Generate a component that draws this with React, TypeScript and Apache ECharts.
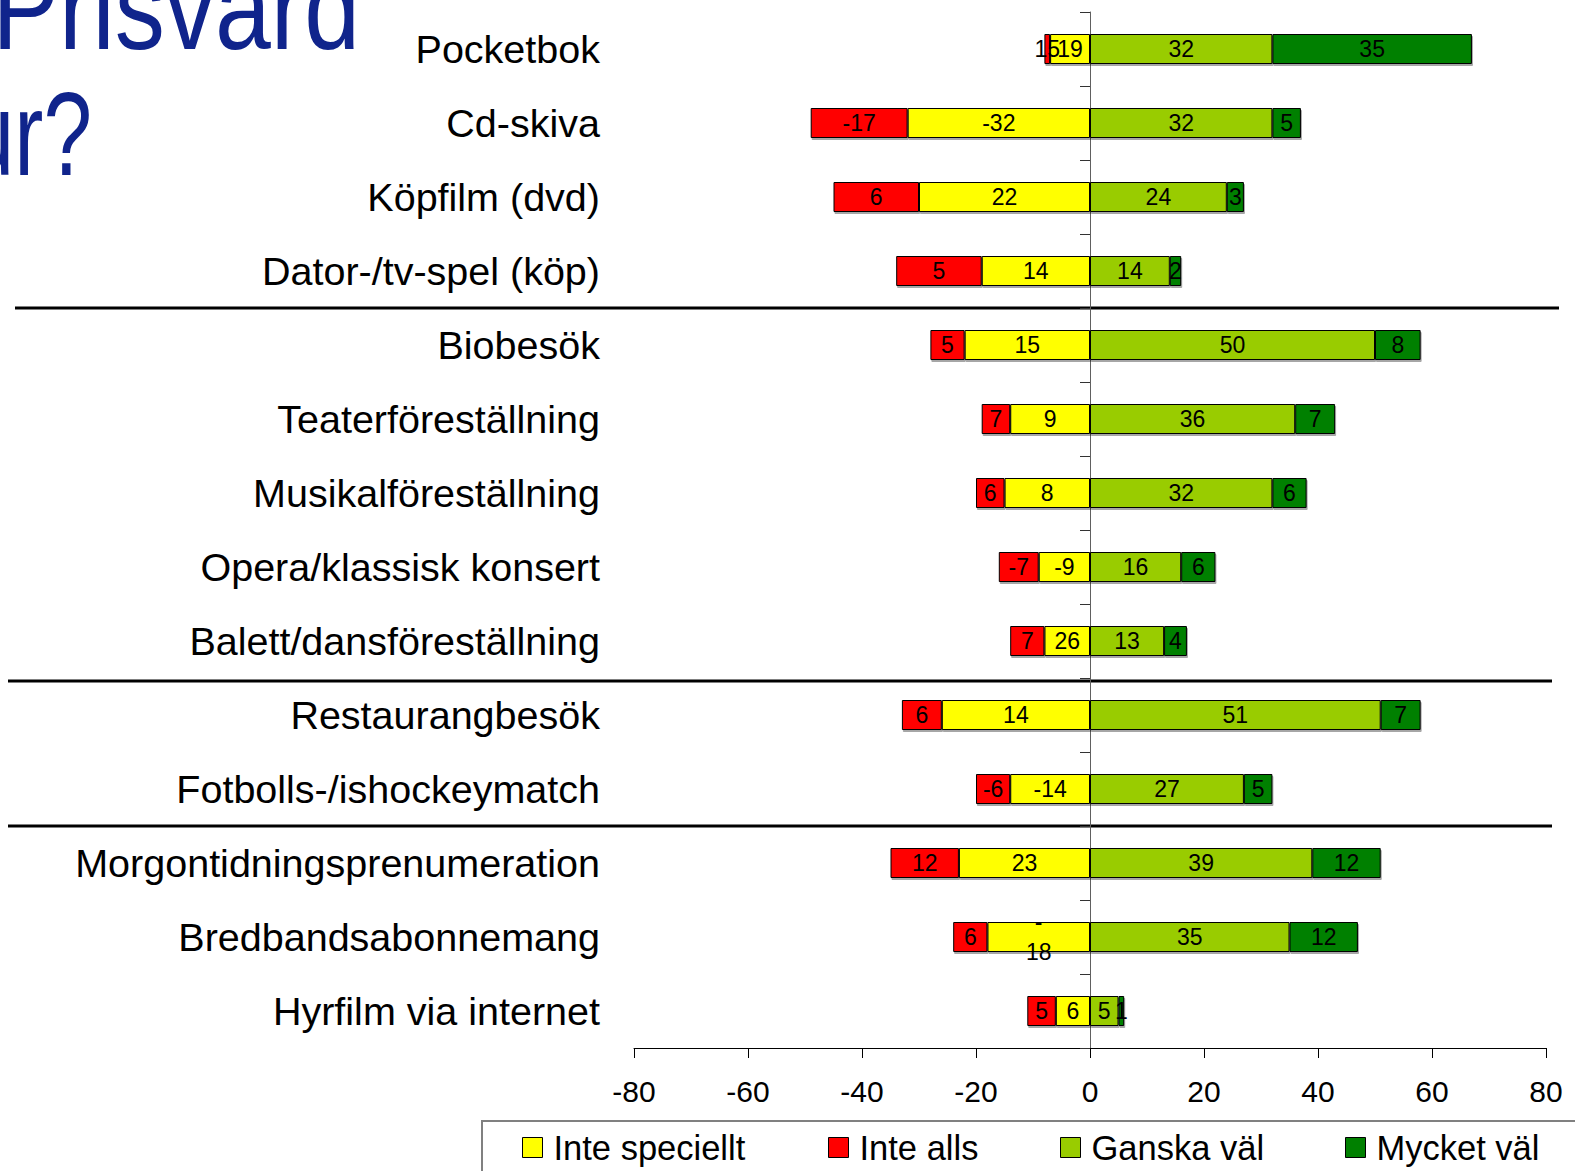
import React, { useEffect, useRef } from "react";
import * as echarts from "echarts";

const categories = [
  "Pocketbok",
  "Cd-skiva",
  "Köpfilm (dvd)",
  "Dator-/tv-spel (köp)",
  "Biobesök",
  "Teaterföreställning",
  "Musikalföreställning",
  "Opera/klassisk konsert",
  "Balett/dansföreställning",
  "Restaurangbesök",
  "Fotbolls-/ishockeymatch",
  "Morgontidningsprenumeration",
  "Bredbandsabonnemang",
  "Hyrfilm via internet",
];

const seriesNames = ["Inte speciellt", "Inte alls", "Ganska väl", "Mycket väl"];
const seriesColors = ["#FFFF00", "#FF0000", "#99CC00", "#008000"];

// bar extents as drawn
const inteSpeciellt = [-7, -32, -30, -19, -22, -14, -15, -9, -8, -26, -14, -23, -18, -6];
const inteAlls = [-1, -17, -15, -15, -6, -5, -5, -7, -6, -7, -6, -12, -6, -5];
const ganskaVal = [32, 32, 24, 14, 50, 36, 32, 16, 13, 51, 27, 39, 35, 5];
const mycketVal = [35, 5, 3, 2, 8, 7, 6, 6, 4, 7, 5, 12, 12, 1];

// data labels as printed on the bars
const inteSpecielltLabels = ["19", "-32", "22", "14", "15", "9", "8", "-9", "26", "14", "-14", "23", "-\n18", "6"];
const inteAllsLabels = ["15", "-17", "6", "5", "5", "7", "6", "-7", "7", "6", "-6", "12", "6", "5"];
const ganskaValLabels = ["32", "32", "24", "14", "50", "36", "32", "16", "13", "51", "27", "39", "35", "5"];
const mycketValLabels = ["35", "5", "3", "2", "8", "7", "6", "6", "4", "7", "5", "12", "12", "1"];

const xTicks = { min: -80, max: 80, interval: 20 };

const FONT = '"Liberation Sans", Arial, sans-serif';

const GRID_LEFT = 634;
const GRID_WIDTH = 912;

export default function App() {
  const ref = useRef<HTMLDivElement>(null);

  useEffect(() => {
    if (!ref.current) return;
    const chart = echarts.init(ref.current, undefined, { renderer: "svg" });

    const values = [inteSpeciellt, inteAlls, ganskaVal, mycketVal];
    const labels = [inteSpecielltLabels, inteAllsLabels, ganskaValLabels, mycketValLabels];
    const legendLefts = [522, 828, 1060, 1345];

    const series = seriesNames.map((name, i) => ({
      name,
      type: "bar",
      stack: "total",
      barWidth: 30,
      yAxisIndex: 0,
      data: values[i],
      itemStyle: {
        color: seriesColors[i],
        borderColor: "#000",
        borderWidth: 1,
        shadowColor: "rgba(0,0,0,0.35)",
        shadowOffsetX: 1,
        shadowOffsetY: 2,
        shadowBlur: 0,
      },
      label: {
        show: true,
        position: "inside",
        color: "#000",
        fontSize: 23,
        fontFamily: FONT,
        lineHeight: 30,
        formatter: (p: any) => labels[i][p.dataIndex],
      },
      emphasis: { disabled: true },
    }));

    const legends = seriesNames.map((name, i) => ({
      data: [name],
      left: legendLefts[i],
      top: 1130,
      padding: 0,
      icon: "rect",
      itemWidth: 20,
      itemHeight: 20,
      selectedMode: false,
      itemStyle: { borderColor: "#000", borderWidth: 1 },
      textStyle: {
        fontSize: 34.5,
        fontFamily: FONT,
        color: "#000",
        padding: [0, 0, 0, 6],
      },
    }));

    // zero position of the value axis, relative to the grid's left edge
    const zeroOffset = ((0 - xTicks.min) / (xTicks.max - xTicks.min)) * GRID_WIDTH;

    chart.setOption({
      animation: false,
      backgroundColor: "#fff",
      textStyle: { fontFamily: FONT },
      grid: { left: GRID_LEFT, top: 12, width: GRID_WIDTH, height: 1036, containLabel: false },
      xAxis: {
        type: "value",
        min: xTicks.min,
        max: xTicks.max,
        interval: xTicks.interval,
        axisLine: { show: true, onZero: false, lineStyle: { color: "#000", width: 1 } },
        axisTick: { show: true, length: 10, lineStyle: { color: "#000" } },
        axisLabel: { fontSize: 30, color: "#000", fontFamily: FONT, margin: 28 },
        splitLine: { show: false },
      },
      yAxis: [
        {
          type: "category",
          data: categories,
          inverse: true,
          position: "left",
          axisLine: { show: false, onZero: false },
          axisTick: { show: false },
          axisLabel: { fontSize: 39.5, color: "#000", fontFamily: FONT, margin: 34 },
        },
        {
          type: "category",
          data: categories,
          inverse: true,
          position: "left",
          offset: -zeroOffset,
          axisLine: { show: true, onZero: false, lineStyle: { color: "#606060", width: 1 } },
          axisTick: { show: true, length: 10, lineStyle: { color: "#333" } },
          axisLabel: { show: false },
        },
      ],
      legend: legends,
      series,
      graphic: [
        {
          type: "text",
          x: 360,
          y: 8,
          scaleX: 0.85,
          style: {
            text: "Prisvärd",
            font: `118px ${FONT}`,
            fill: "#10248C",
            textAlign: "right",
            textVerticalAlign: "middle",
          },
          silent: true,
        },
        {
          type: "text",
          x: 92,
          y: 134,
          scaleX: 0.74,
          style: {
            text: "kultur?",
            font: `118px ${FONT}`,
            fill: "#10248C",
            textAlign: "right",
            textVerticalAlign: "middle",
          },
          silent: true,
        },
        {
          type: "line",
          shape: { x1: 15, y1: 308, x2: 1559, y2: 308 },
          style: { stroke: "#000", lineWidth: 3 },
          silent: true,
        },
        {
          type: "line",
          shape: { x1: 8, y1: 681, x2: 1552, y2: 681 },
          style: { stroke: "#000", lineWidth: 3 },
          silent: true,
        },
        {
          type: "line",
          shape: { x1: 8, y1: 826, x2: 1552, y2: 826 },
          style: { stroke: "#000", lineWidth: 3 },
          silent: true,
        },
        {
          type: "rect",
          shape: { x: 482, y: 1121, width: 1200, height: 100 },
          style: { fill: "none", stroke: "#808080", lineWidth: 2 },
          silent: true,
        },
      ],
    });

    return () => chart.dispose();
  }, []);

  return (
    <div
      ref={ref}
      style={{ position: "absolute", left: 0, top: 0, width: 1575, height: 1171, background: "#fff" }}
    />
  );
}
